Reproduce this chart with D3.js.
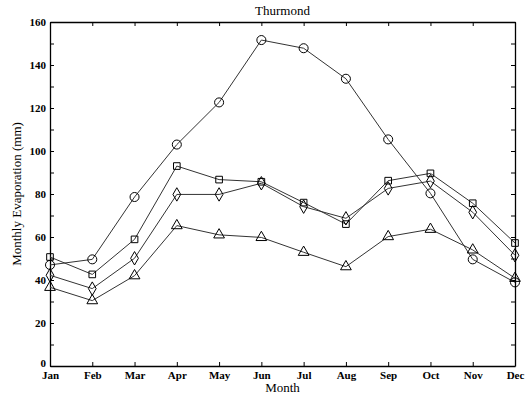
<!DOCTYPE html>
<html>
<head>
<meta charset="utf-8">
<script src="https://cdn.jsdelivr.net/npm/d3@7"></script>
<style>
    body { margin: 0; background: #fff; }
    text { font-family: "Liberation Serif", "DejaVu Serif", serif; fill: #000; }
</style>
</head>
<body>
<svg></svg>
<script>
// Data.
var months = ['Jan', 'Feb', 'Mar', 'Apr', 'May', 'Jun', 'Jul', 'Aug', 'Sep', 'Oct', 'Nov', 'Dec'];
var circleSeries   = [47, 49.6, 78.6, 103, 122.6, 151.6, 147.8, 133.6, 105.4, 80.3, 49.6, 38.9];
var squareSeries   = [50.7, 42.6, 58.9, 93, 86.7, 85.7, 76, 66, 86.2, 89.6, 75.7, 57.2];
var diamondSeries  = [42.2, 36, 50.1, 79.8, 79.8, 85, 74.1, 68.7, 82.6, 86, 71.5, 51.5];
var triangleSeries = [36.6, 30.4, 42, 65.3, 61, 59.8, 52.9, 46.2, 60.2, 63.6, 54, 40.8];
var yTicks = [0, 20, 40, 60, 80, 100, 120, 140, 160];

var series = [
    { name: 'circle', values: circleSeries, symbol: d3.symbolCircle, size: 64 },
    { name: 'square', values: squareSeries, symbol: d3.symbolSquare, size: 44 },
    { name: 'diamond', values: diamondSeries, symbol: d3.symbolDiamond, size: 52 },
    { name: 'triangle', values: triangleSeries, symbol: d3.symbolTriangle, size: 50 }
];

var margin = { top: 22, right: 13, bottom: 28, left: 50 };
var width = 528 - margin.left - margin.right;
var height = 394 - margin.top - margin.bottom;

var svg = d3.select('svg')
    .attr('width', 528)
    .attr('height', 394)
;

var chart = svg.append('g')
    .attr('transform', 'translate(' + margin.left + ',' + margin.top + ')')
;

var xScale = d3.scalePoint()
    .domain(months)
    .range([0, width])
;

var yScale = d3.scaleLinear()
    .domain([0, 160])
    .range([height, 0])
;

// Ticks pointing inside on all four sides.
var minor = d3.range(0, 161, 10);

chart.append('g')
    .attr('transform', 'translate(0,' + height + ')')
    .call(d3.axisBottom(xScale).tickSizeInner(-4).tickSizeOuter(0).tickPadding(7))
    .call(function(g) {
        g.selectAll('text').style('font-size', '11px').style('font-weight', 'bold').attr('dy', '0.55em');
    })
;

chart.append('g')
    .call(d3.axisTop(xScale).tickSizeInner(-4).tickSizeOuter(0).tickFormat(''))
;

chart.append('g')
    .call(d3.axisLeft(yScale).tickValues(minor).tickSizeInner(-4).tickSizeOuter(0).tickPadding(4)
        .tickFormat(function(d) { return yTicks.indexOf(d) >= 0 ? d : ''; }))
    .call(function(g) {
        g.selectAll('text').style('font-size', '11px').style('font-weight', 'bold');
        // The zero label sits just above the month labels.
        g.selectAll('.tick').filter(function(d) { return d === 0; })
            .select('text').attr('dy', '0.05em');
    })
;

chart.append('g')
    .attr('transform', 'translate(' + width + ',0)')
    .call(d3.axisRight(yScale).tickValues(minor).tickSizeInner(-4).tickSizeOuter(0).tickFormat(''))
;

chart.selectAll('.domain').attr('stroke', '#000').attr('stroke-width', 1.3);
chart.selectAll('.tick line').attr('stroke', '#000');

// Series lines and markers.
var line = d3.line()
    .x(function(d, i) { return xScale(months[i]); })
    .y(function(d) { return yScale(d); })
;

var groups = chart.selectAll('.series')
    .data(series)
    .enter()
    .append('g')
    .classed('series', true)
;

groups.append('path')
    .attr('d', function(d) { return line(d.values); })
    .attr('fill', 'none')
    .attr('stroke', '#333')
    .attr('stroke-width', 1)
;

groups.each(function(s) {
    d3.select(this).selectAll('.marker')
        .data(s.values)
        .enter()
        .append('path')
        .classed('marker', true)
        .attr('transform', function(d, i) {
            return 'translate(' + xScale(months[i]) + ',' + yScale(d) + ')';
        })
        .attr('d', d3.symbol().type(s.symbol).size(s.size))
        .attr('fill', 'none')
        .attr('stroke', '#000')
        .attr('stroke-width', 1)
    ;
});

// Titles.
svg.append('text')
    .attr('x', margin.left + width / 2)
    .attr('y', 15)
    .attr('text-anchor', 'middle')
    .style('font-size', '13px')
    .text('Thurmond');

svg.append('text')
    .attr('x', margin.left + width / 2)
    .attr('y', 392)
    .attr('text-anchor', 'middle')
    .style('font-size', '13px')
    .text('Month');

svg.append('text')
    .attr('transform', 'translate(21,' + (margin.top + height / 2) + ') rotate(-90)')
    .attr('text-anchor', 'middle')
    .style('font-size', '13px')
    .text('Monthly Evaporation (mm)');
</script>
</body>
</html>
